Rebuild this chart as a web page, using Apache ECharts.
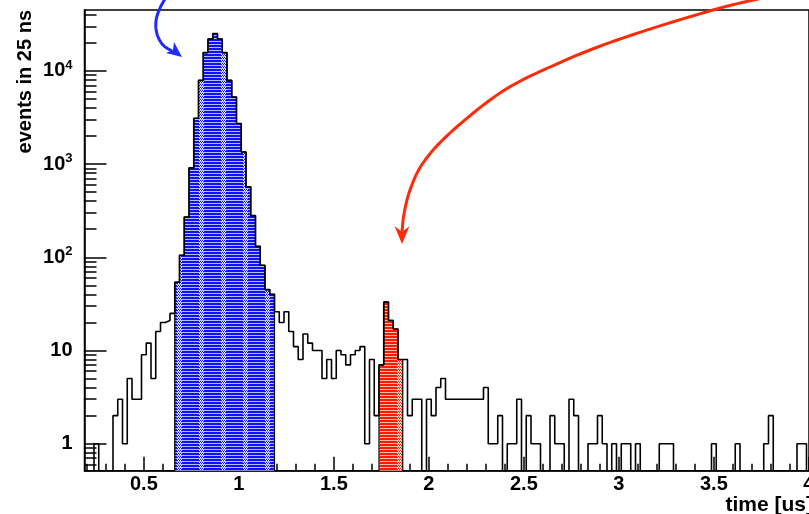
<!DOCTYPE html>
<html>
<head>
<meta charset="utf-8">
<script src="https://cdn.jsdelivr.net/npm/echarts@6/dist/echarts.min.js"></script>
<style>
html, body { margin: 0; padding: 0; background: #fff; }
#chart { width: 809px; height: 514px; }
</style>
</head>
<body>
<div id="chart"></div>
<script>
// 25 ns bins, time in us
var binStart = 0.1875;
var binWidth = 0.025;

// events per bin
var earlyCounts = [0, 0, 1, 0, 0, 0, 2, 3, 1, 5, 3, 3, 9, 12, 5, 16, 20, 21, 25];
var promptCounts = [54, 105, 270, 910, 3100, 7900, 15700, 22000, 25100, 22000, 15700,
                    7900, 5230, 2725, 1350, 570, 280, 131, 82, 45, 40];
var midCounts = [26, 20, 26, 16, 11, 8, 15, 12, 10, 10, 5, 8, 5, 10, 9, 7, 9, 10, 11, 1, 8, 2];
var delayedCounts = [7, 33, 21, 17, 8];
var lateCounts = [8, 2, 3, 3, 0, 3, 2, 4, 5,
                  3, 3, 3, 3, 3, 3, 3, 3,
                  4, 1, 1, 2, 0, 1, 1, 3, 0, 2,
                  1, 1, 0, 0, 2, 1, 1, 0, 3, 2,
                  0, 0, 1, 1, 2, 1, 0, 1, 0, 1,
                  1, 0, 1, 0, 0, 0, 0, 1, 1, 1,
                  0, 0, 0, 0, 0, 0, 0, 0, 1, 0,
                  0, 0, 0, 1, 0, 0, 0, 0, 0, 1,
                  2, 0, 0, 0, 0, 0, 1, 1, 0];

var xMajor = [0.5, 1, 1.5, 2, 2.5, 3, 3.5, 4];
var yMajor = [1, 10, 100, 1000, 10000];

var xMin = 0.1875, xMax = 4.0007;
var yMin = 0.513, yMax = 45000;

var allCounts = earlyCounts.concat(promptCounts, midCounts, delayedCounts, lateCounts);
var promptFirst = earlyCounts.length;
var delayedFirst = promptFirst + promptCounts.length + midCounts.length;

function edge(k) { return +(binStart + k * binWidth).toFixed(4); }

// step outline of a run of bins, zero bins dropped to the floor
function stepData(counts, first, closed) {
  var out = [];
  if (closed) out.push([edge(first), yMin]);
  counts.forEach(function (c, i) { out.push([edge(first + i), c > 0 ? c : yMin]); });
  var last = counts[counts.length - 1];
  out.push([edge(first + counts.length), last > 0 ? last : yMin]);
  if (closed) out.push([edge(first + counts.length), yMin]);
  return out;
}

var xMinor = [];
for (var i = 2; i <= 40; i++) xMinor.push(+(i / 10).toFixed(1));
var yMinor = [];
[0.1, 1, 10, 100, 1000, 10000].forEach(function (d) {
  for (var m = 2; m <= 9; m++) {
    var v = +(m * d).toPrecision(3);
    if (v > yMin && v < yMax) yMinor.push(v);
  }
});

function hatch(dark, light) {
  var c = document.createElement('canvas');
  c.width = 22; c.height = 3;
  var g = c.getContext('2d');
  g.fillStyle = dark; g.fillRect(0, 0, 22, 3);
  g.fillStyle = light; g.fillRect(0, 2, 22, 1);
  g.fillStyle = '#fff';
  [[1, 0], [3, 0], [5, 0], [2, 1], [4, 1]].forEach(function (p) { g.fillRect(p[0], p[1], 1, 1); });
  return c;
}

// catmull-rom through a few guide points, for the arrows
function curve(pts) {
  var out = [];
  for (var i = 0; i < pts.length - 1; i++) {
    var p0 = pts[Math.max(i - 1, 0)], p1 = pts[i], p2 = pts[i + 1], p3 = pts[Math.min(i + 2, pts.length - 1)];
    for (var s = 0; s < 12; s++) {
      var t = s / 12, t2 = t * t, t3 = t2 * t;
      out.push([0, 1].map(function (j) {
        return 0.5 * (2 * p1[j] + (-p0[j] + p2[j]) * t + (2 * p0[j] - 5 * p1[j] + 4 * p2[j] - p3[j]) * t2 +
               (-p0[j] + 3 * p1[j] - 3 * p2[j] + p3[j]) * t3);
      }));
    }
  }
  out.push(pts[pts.length - 1]);
  return out;
}

var font = 'Liberation Sans';
var chart = echarts.init(document.getElementById('chart'));

var option = {
  animation: false,
  backgroundColor: '#fff',
  grid: {
    left: 84.5, right: 0, top: 10, bottom: 43.3,
    outerBoundsMode: 'none',
    show: true, borderColor: '#000', borderWidth: 1.5, backgroundColor: 'transparent'
  },
  xAxis: [{
    type: 'value', min: xMin, max: xMax, position: 'bottom',
    axisLine: { onZero: false, lineStyle: { color: '#000', width: 1.5 } },
    axisTick: { inside: true, length: 14, customValues: xMajor, lineStyle: { color: '#000', width: 1.5 } },
    axisLabel: {
      customValues: xMajor, margin: 4, color: '#000',
      fontSize: 20, fontWeight: 'bold', fontFamily: font,
      formatter: function (v) { return String(v); }
    },
    splitLine: { show: false }
  }, {
    type: 'value', min: xMin, max: xMax, position: 'bottom',
    axisLine: { show: false },
    axisTick: { inside: true, length: 7, customValues: xMinor, lineStyle: { color: '#000', width: 1.5 } },
    axisLabel: { show: false },
    splitLine: { show: false }
  }],
  yAxis: [{
    type: 'log', logBase: 10, min: yMin, max: yMax, position: 'left',
    axisLine: { lineStyle: { color: '#000', width: 1.5 } },
    axisTick: { inside: true, length: 22, customValues: yMajor, lineStyle: { color: '#000', width: 1.5 } },
    axisLabel: {
      customValues: yMajor, margin: 12, color: '#000',
      formatter: function (v) {
        var e = Math.round(Math.log10(v));
        if (e === 0) return '{b|1}';
        if (e === 1) return '{b|10}';
        return '{b|10}{s|' + e + '}';
      },
      rich: {
        b: { fontSize: 20, fontWeight: 'bold', fontFamily: font, color: '#000', lineHeight: 24 },
        s: { fontSize: 13, fontWeight: 'bold', fontFamily: font, color: '#000', lineHeight: 14, verticalAlign: 'top' }
      }
    },
    splitLine: { show: false }
  }, {
    type: 'log', logBase: 10, min: yMin, max: yMax, position: 'left', offset: 0,
    axisLine: { show: false },
    axisTick: { inside: true, length: 12, customValues: yMinor, lineStyle: { color: '#000', width: 1.5 } },
    axisLabel: { show: false },
    splitLine: { show: false }
  }],
  series: [{
    type: 'line', step: 'end', symbol: 'none', silent: true, z: 3,
    data: stepData(promptCounts, promptFirst, true),
    lineStyle: { color: '#000', width: 1.2 },
    areaStyle: { color: { image: hatch('#1010ff', '#b4bcff'), repeat: 'repeat' }, opacity: 1, origin: 'start' }
  }, {
    type: 'line', step: 'end', symbol: 'none', silent: true, z: 3,
    data: stepData(delayedCounts, delayedFirst, true),
    lineStyle: { color: '#000', width: 1.2 },
    areaStyle: { color: { image: hatch('#ff1a00', '#ffb8a8'), repeat: 'repeat' }, opacity: 1, origin: 'start' }
  }, {
    type: 'line', step: 'end', symbol: 'none', silent: true, z: 5,
    data: stepData(allCounts, 0, false),
    lineStyle: { color: '#000', width: 1.6 }
  }],
  graphic: [{
    type: 'text', x: 25, y: 10, rotation: Math.PI / 2,
    style: { text: 'events in 25 ns', fontSize: 20, fontWeight: 'bold', fontFamily: font, fill: '#000', align: 'right', verticalAlign: 'middle' }
  }, {
    type: 'text', x: 813, y: 505,
    style: { text: 'time [us]', fontSize: 21, fontWeight: 'bold', fontFamily: font, fill: '#000', align: 'right', verticalAlign: 'middle' }
  }, {
    // blue arrow
    type: 'polyline', z: 10,
    shape: { points: curve([[168, -6], [160, 8], [156, 21], [157, 34], [163, 45], [172, 51]]) },
    style: { stroke: '#1f2bff', lineWidth: 3, fill: null }
  }, {
    type: 'polygon', z: 10,
    shape: { points: [[182, 57], [166, 53], [173, 50], [174, 42]] },
    style: { fill: '#1f2bff' }
  }, {
    // red arrow
    type: 'polyline', z: 10,
    shape: { points: curve([[772, -4], [713, 10], [617, 40], [550, 67], [500, 93], [450, 133], [423, 163], [410, 190], [404, 214], [402, 232]]) },
    style: { stroke: '#ff2a0a', lineWidth: 3, fill: null }
  }, {
    type: 'polygon', z: 10,
    shape: { points: [[402, 244], [394.5, 226], [402, 232], [409.5, 226]] },
    style: { fill: '#ff2a0a' }
  }]
};
chart.setOption(option);
</script>
</body>
</html>
